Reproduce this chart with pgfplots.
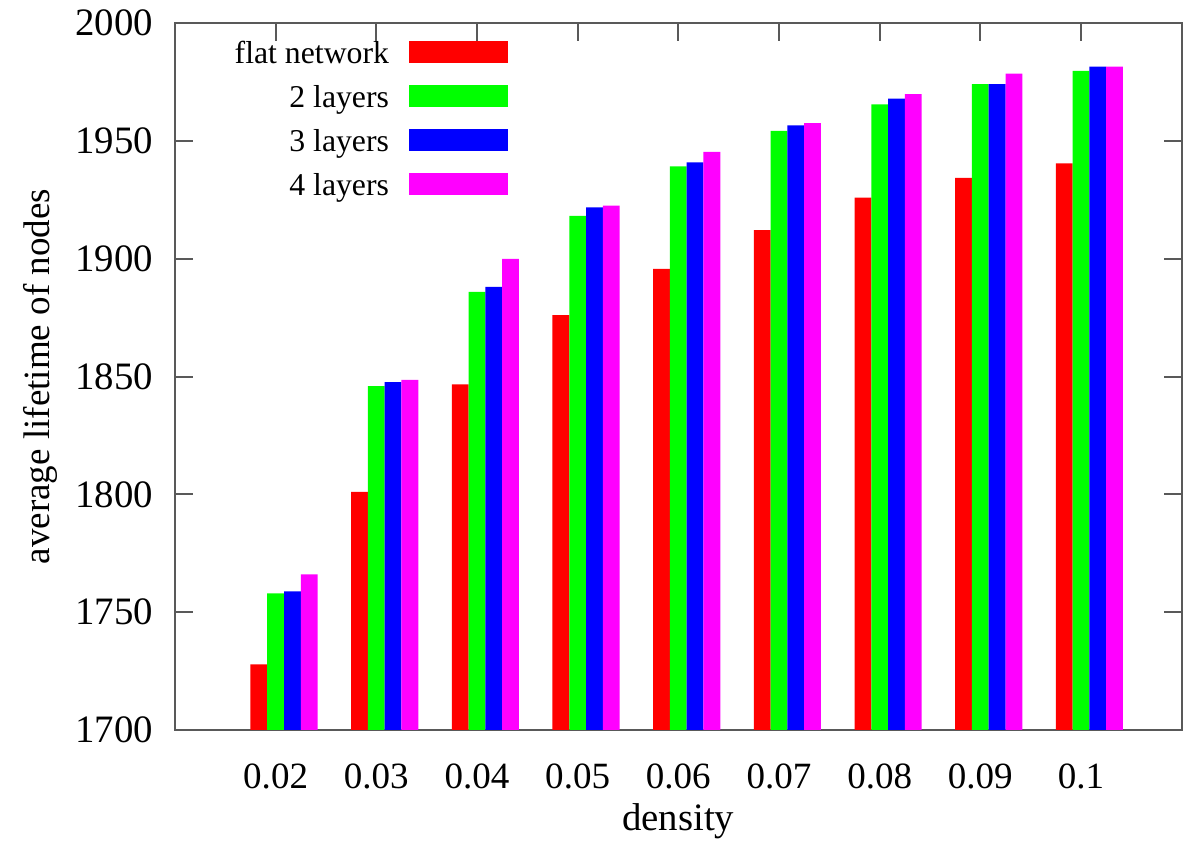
\documentclass[border=0pt]{standalone}
\usepackage{fontspec}
\setmainfont{Liberation Serif}
\usepackage{pgfplots}
\usepackage{pgfplotstable}
\pgfplotsset{compat=1.18}

\definecolor{gpred}{rgb}{1,0,0}
\definecolor{gpgreen}{rgb}{0,1,0}
\definecolor{gpblue}{rgb}{0,0,1}
\definecolor{gpmagenta}{rgb}{1,0,1}

% average lifetime per density, one column per configuration
\pgfplotstableread{
x flat   two    three  four
0 1727.9 1758.0 1758.8 1766.1
1 1801.1 1846.0 1847.7 1848.6
2 1846.7 1886.0 1888.1 1900.0
3 1876.1 1918.2 1921.8 1922.6
4 1895.7 1939.3 1941.0 1945.4
5 1912.2 1954.3 1956.7 1957.6
6 1926.0 1965.6 1968.0 1969.9
7 1934.4 1974.2 1974.2 1978.6
8 1940.5 1979.8 1981.6 1981.6
}\lifetime

\pgfplotsset{
  mybar/.style={ybar, bar width=0.16667, bar shift=0pt, draw=none, fill=#1,
    legend image code/.code={\fill[#1] (0pt,-2.15pt) rectangle (27.9pt,4.15pt);}},
}

\begin{document}
\fontsize{10.5}{12.6}\selectfont
\begin{tikzpicture}
\begin{axis}[
    name=main,
    scale only axis,
    width=285.4pt, height=200.35pt,
    xmin=-1, xmax=9,
    ymin=1700, ymax=2000,
    xtick={0,...,8},
    xticklabels={0.02,0.03,0.04,0.05,0.06,0.07,0.08,0.09,0.1},
    ytick={1700,1750,...,2000},
    tick align=inside,
    major tick length=5pt,
    axis line style={black!65, line width=0.6pt},
    tick style={black!65, line width=0.6pt},
    /pgf/number format/assume math mode=true,
    /pgf/number format/1000 sep={},
    yticklabel style={inner sep=0pt, xshift=-6pt, font=\fontsize{11}{13}\selectfont},
    xticklabel style={inner sep=0pt, yshift=-9.4pt},
    xlabel={density},
    ylabel={average lifetime of nodes},
    xlabel style={at={(axis description cs:0.5,-0.1033)}, anchor=north, inner sep=0pt,
      font=\fontsize{11}{13}\selectfont},
    ylabel style={at={(axis description cs:-0.1162,0.5)}, anchor=south, inner sep=0pt},
    legend style={draw=none, fill=none, inner sep=0pt, outer sep=0pt,
      at={(0.3305,0.975)}, anchor=north east,
      row sep=4.2pt, column sep=5.75pt,
      font=\fontsize{9}{10.8}\selectfont,
      nodes={inner sep=0pt, text height=6.3pt, text depth=2pt}},
    legend cell align=right,
    legend plot pos=right,
  ]
\addplot[mybar=gpred]     table[x expr=\thisrow{x}-0.16667, y=flat]{\lifetime};
\addplot[mybar=gpgreen]   table[x=x, y=two]{\lifetime};
\addplot[mybar=gpblue]    table[x expr=\thisrow{x}+0.16667, y=three]{\lifetime};
\addplot[mybar=gpmagenta] table[x expr=\thisrow{x}+0.33333, y=four]{\lifetime};
\legend{flat network, 2 layers, 3 layers, 4 layers}
\end{axis}
\path ([xshift=-49.6pt, yshift=-33.45pt]main.south west)
  rectangle ([xshift=5.19pt, yshift=6.6pt]main.north east);
\end{tikzpicture}
\end{document}
